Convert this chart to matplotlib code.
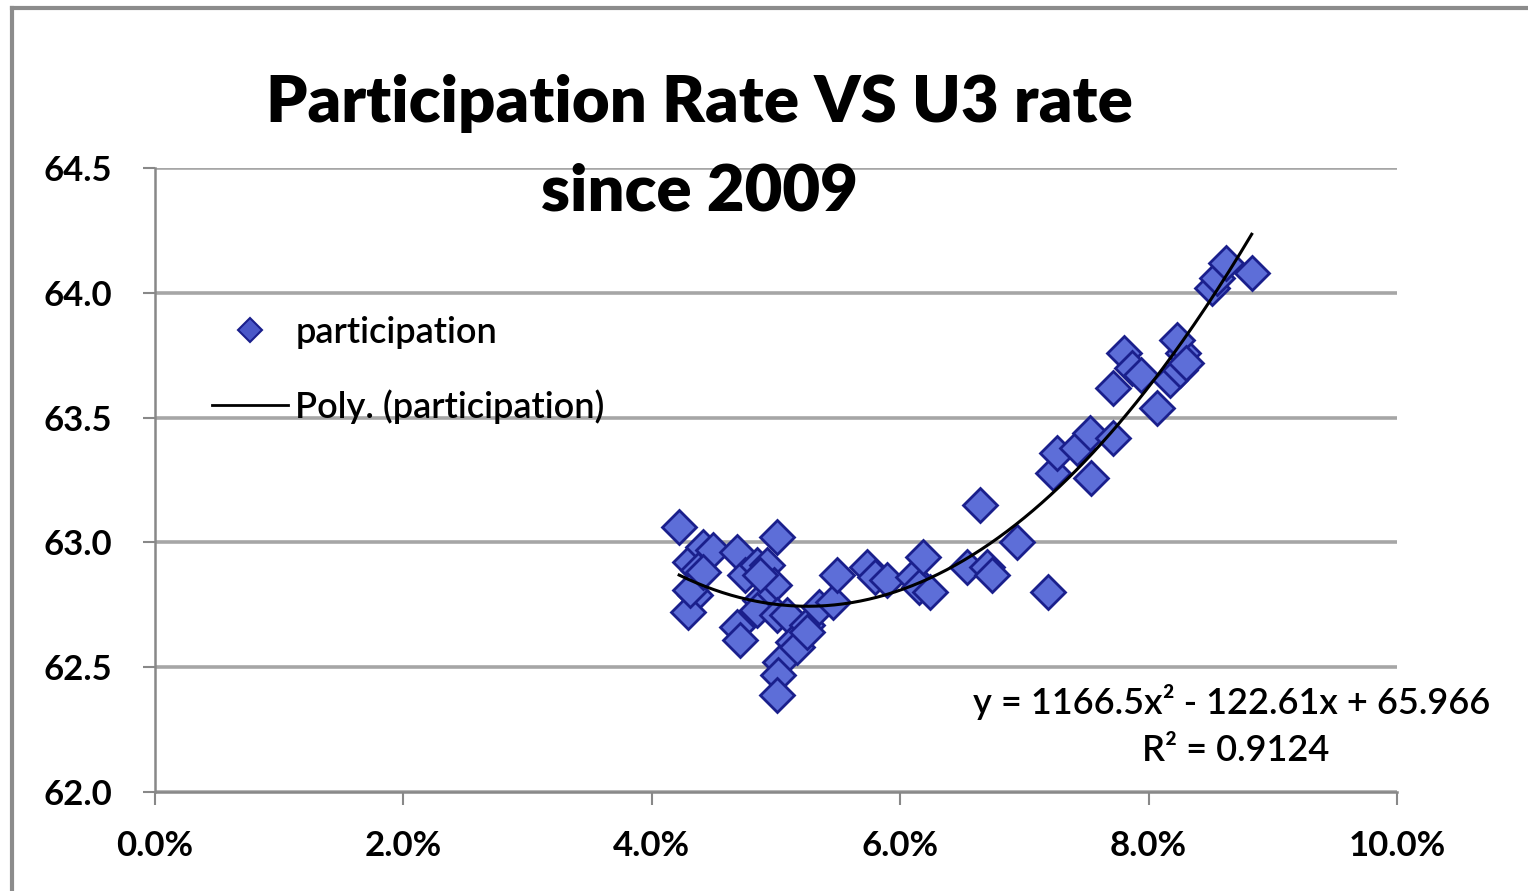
import numpy as np
import matplotlib.pyplot as plt
from matplotlib.lines import Line2D
from matplotlib.ticker import FuncFormatter

# U3 unemployment rate (%) vs labour force participation rate (%)
u3_pct = [
    4.22, 4.31, 4.41, 4.49, 4.37, 4.35, 4.29, 4.31, 4.41, 4.69,
    4.75, 4.85, 5.01, 4.93, 4.98, 4.87, 4.87, 4.69, 4.71, 4.85,
    5.01, 5.09, 5.03, 5.02, 5.01, 5.14, 5.17, 5.25, 5.25, 5.35,
    5.46, 5.49, 5.73, 5.80, 5.89, 6.10, 6.15, 6.18, 6.24, 6.54,
    6.64, 6.70, 6.74, 6.94, 7.19, 7.23, 7.26, 7.42, 7.54, 7.53,
    7.71, 7.71, 7.80, 7.87, 7.94, 8.07, 8.17, 8.25, 8.28, 8.23,
    8.30, 8.51, 8.55, 8.62, 8.83,
]
participation = [
    63.06, 62.92, 62.98, 62.97, 62.89, 62.79, 62.72, 62.81, 62.88, 62.96,
    62.87, 62.91, 63.02, 62.91, 62.83, 62.77, 62.87, 62.66, 62.61, 62.73,
    62.71, 62.71, 62.52, 62.47, 62.39, 62.60, 62.58, 62.67, 62.64, 62.74,
    62.76, 62.87, 62.90, 62.86, 62.85, 62.86, 62.82, 62.94, 62.80, 62.90,
    63.15, 62.90, 62.87, 63.00, 62.80, 63.28, 63.36, 63.38, 63.26, 63.44,
    63.42, 63.62, 63.76, 63.70, 63.67, 63.54, 63.65, 63.69, 63.76, 63.81,
    63.72, 64.02, 64.06, 64.12, 64.08,
]
# Excel trendline coefficients shown on the chart
poly_coef = [1166.5, -122.61, 65.966]
r_squared = 0.9124

x_ticks = [0.0, 0.02, 0.04, 0.06, 0.08, 0.10]
y_ticks = [62.0, 62.5, 63.0, 63.5, 64.0, 64.5]

plt.rcParams['font.family'] = ['Lato', 'DejaVu Sans']

x = np.array(u3_pct) / 100
y = np.array(participation)

fig = plt.figure(figsize=(15.28, 8.91), dpi=100)
ax = fig.add_axes([155 / 1528, 1 - 792 / 891, (1397 - 155) / 1528, (792 - 168) / 891])

ax.set_axisbelow(True)
ax.grid(axis='y', color='#a6a6a6', lw=2.6)
ax.grid(axis='x', visible=False)

ax.plot(x, y, ls='none', marker='D', ms=17, mfc='#5d6ed8', mec='#1a1f8c', mew=2, zorder=3)

xs = np.linspace(x.min(), x.max(), 200)
ax.plot(xs, np.polyval(poly_coef, xs), color='black', lw=2.2, zorder=4)

ax.set_xlim(0, 0.10)
ax.set_ylim(62.0, 64.5)
ax.set_xticks(x_ticks)
ax.set_yticks(y_ticks)
ax.xaxis.set_major_formatter(FuncFormatter(lambda v, p: f"{v * 100:.1f}%"))
ax.yaxis.set_major_formatter(FuncFormatter(lambda v, p: f"{v:.1f}"))
ax.tick_params(axis='both', length=9, width=1.5, color='#888888', labelsize=25, pad=22)
ax.tick_params(axis='x', pad=18)
for lab in ax.get_xticklabels() + ax.get_yticklabels():
    lab.set_fontweight('bold')

for s in ['top', 'right']:
    ax.spines[s].set_visible(False)
for s in ['left', 'bottom']:
    ax.spines[s].set_color('#888888')
    ax.spines[s].set_linewidth(1.8)

handles = [
    Line2D([], [], ls='none', marker='D', ms=12, mfc='#4a58c8', mec='#1a1f8c', mew=1.5),
    Line2D([], [], color='black', lw=2),
]
ax.legend(handles, ['participation', 'Poly. (participation)'], loc='upper left',
          bbox_to_anchor=(0.02, 0.815), frameon=False,
          prop={'size': 26, 'weight': 'semibold'},
          handlelength=2.1, handletextpad=0.2, labelspacing=1.12)

fig.text(0.458, 1 - 148 / 891, 'Participation Rate VS U3 rate\nsince 2009', ha='center', va='center',
         fontsize=47, fontweight='heavy', linespacing=1.62)

ax.text(1.075, 0.145, 'y = 1166.5x² - 122.61x + 65.966', transform=ax.transAxes,
        ha='right', va='center', fontsize=26, fontweight='semibold')
ax.text(0.87, 0.066, f'R² = {r_squared}', transform=ax.transAxes,
        ha='center', va='center', fontsize=26, fontweight='semibold')

# outer chart frame (left and top edges visible)
fig.add_artist(Line2D([12 / 1528, 12 / 1528], [0, 1 - 8 / 891], color='#8c8c8c', lw=3, transform=fig.transFigure))
fig.add_artist(Line2D([12 / 1528, 1], [1 - 8 / 891, 1 - 8 / 891], color='#8c8c8c', lw=3, transform=fig.transFigure))

fig.savefig('out.png', dpi=100, facecolor='white')
